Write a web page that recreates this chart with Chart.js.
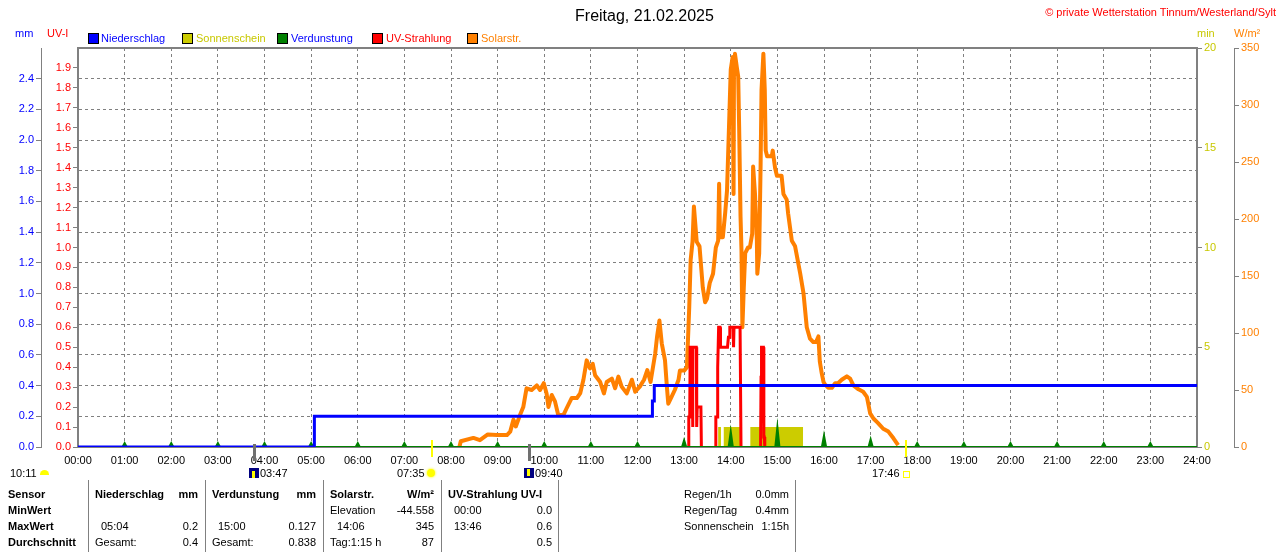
<!DOCTYPE html>
<html>
<head>
<meta charset="utf-8">
<script src="https://cdn.jsdelivr.net/npm/chart.js@4.4.1/dist/chart.umd.min.js"></script>
<style>
  body { margin: 0; background: #fff; font-family: "Liberation Sans", Arial, sans-serif; font-size: 11px; }
  #wrap { position: relative; width: 1280px; height: 552px; overflow: hidden; }
  #chart { position: absolute; left: 0; top: 0; }
  .t { position: absolute; white-space: nowrap; line-height: 14px; }
  .b { font-weight: bold; }
  .sq { position: absolute; top: 33px; width: 9px; height: 9px; border: 1px solid #000; }
  .vl { position: absolute; top: 480px; height: 72px; width: 1px; background: #808080; }
</style>
</head>
<body>
<div id="wrap">
  <canvas id="chart" width="1280" height="552"></canvas>

  <div class="t" style="left:0;width:1280px;top:7px;text-align:center;font-size:16px;line-height:18px;">&nbsp;&nbsp;Freitag, 21.02.2025</div>
  <div class="t" style="right:4px;top:5px;color:#ff0000;">© private Wetterstation Tinnum/Westerland/Sylt</div>

  <div class="t" style="left:15px;top:26px;color:#0000ff;">mm</div>
  <div class="t" style="left:47px;top:26px;color:#ff0000;">UV-I</div>
  <div class="t" style="left:1197px;top:26px;color:#c8c800;">min</div>
  <div class="t" style="left:1234px;top:26px;color:#ff8000;">W/m²</div>

  <div class="sq" style="left:88px;background:#0000ff;"></div>
  <div class="t" style="left:101px;top:31px;color:#0000ff;">Niederschlag</div>
  <div class="sq" style="left:182px;background:#cccc00;"></div>
  <div class="t" style="left:196px;top:31px;color:#c8c800;">Sonnenschein</div>
  <div class="sq" style="left:277px;background:#008000;"></div>
  <div class="t" style="left:291px;top:31px;color:#0000ff;">Verdunstung</div>
  <div class="sq" style="left:372px;background:#ff0000;"></div>
  <div class="t" style="left:386px;top:31px;color:#ff0000;">UV-Strahlung</div>
  <div class="sq" style="left:467px;background:#ff8000;"></div>
  <div class="t" style="left:481px;top:31px;color:#ff8000;">Solarstr.</div>

  <!-- sun / moon row -->
  <div class="t" style="left:10px;top:466px;">10:11</div>
  <div style="position:absolute;left:40px;top:470px;width:9px;height:5px;background:#ffff00;border-radius:5px 5px 0 0;"></div>
  <div style="position:absolute;left:249px;top:468px;width:10px;height:10px;background:#000080;"><div style="position:absolute;left:3px;top:3px;width:3px;height:7px;background:#ffff00;"></div></div>
  <div class="t" style="left:260px;top:466px;">03:47</div>
  <div class="t" style="left:397px;top:466px;">07:35</div>
  <div style="position:absolute;left:427px;top:469px;width:8px;height:8px;background:#ffff00;border-radius:50%;box-shadow:0 0 2px 1px #ffff80;"></div>
  <div style="position:absolute;left:524px;top:468px;width:10px;height:10px;background:#000080;"><div style="position:absolute;left:3px;top:1px;width:3px;height:7px;background:#ffff00;"></div></div>
  <div class="t" style="left:535px;top:466px;">09:40</div>
  <div class="t" style="left:872px;top:466px;">17:46</div>
  <div style="position:absolute;left:903px;top:471px;width:5px;height:5px;border:1px solid #ffff00;"></div>

  <!-- table -->
  <div class="vl" style="left:88px;"></div>
  <div class="vl" style="left:205px;"></div>
  <div class="vl" style="left:323px;"></div>
  <div class="vl" style="left:441px;"></div>
  <div class="vl" style="left:558px;"></div>
  <div class="vl" style="left:795px;"></div>

  <div class="t b" style="left:8px;top:487px;">Sensor</div>
  <div class="t b" style="left:8px;top:503px;">MinWert</div>
  <div class="t b" style="left:8px;top:519px;">MaxWert</div>
  <div class="t b" style="left:8px;top:535px;">Durchschnitt</div>

  <div class="t b" style="left:95px;top:487px;">Niederschlag</div>
  <div class="t b" style="right:1082px;top:487px;">mm</div>
  <div class="t" style="left:101px;top:519px;">05:04</div>
  <div class="t" style="right:1082px;top:519px;">0.2</div>
  <div class="t" style="left:95px;top:535px;">Gesamt:</div>
  <div class="t" style="right:1082px;top:535px;">0.4</div>

  <div class="t b" style="left:212px;top:487px;">Verdunstung</div>
  <div class="t b" style="right:964px;top:487px;">mm</div>
  <div class="t" style="left:218px;top:519px;">15:00</div>
  <div class="t" style="right:964px;top:519px;">0.127</div>
  <div class="t" style="left:212px;top:535px;">Gesamt:</div>
  <div class="t" style="right:964px;top:535px;">0.838</div>

  <div class="t b" style="left:330px;top:487px;">Solarstr.</div>
  <div class="t b" style="right:846px;top:487px;">W/m²</div>
  <div class="t" style="left:330px;top:503px;">Elevation</div>
  <div class="t" style="right:846px;top:503px;">-44.558</div>
  <div class="t" style="left:337px;top:519px;">14:06</div>
  <div class="t" style="right:846px;top:519px;">345</div>
  <div class="t" style="left:330px;top:535px;">Tag:1:15 h</div>
  <div class="t" style="right:846px;top:535px;">87</div>

  <div class="t b" style="left:448px;top:487px;">UV-Strahlung UV-I</div>
  <div class="t" style="left:454px;top:503px;">00:00</div>
  <div class="t" style="right:728px;top:503px;">0.0</div>
  <div class="t" style="left:454px;top:519px;">13:46</div>
  <div class="t" style="right:728px;top:519px;">0.6</div>
  <div class="t" style="right:728px;top:535px;">0.5</div>

  <div class="t" style="left:684px;top:487px;">Regen/1h</div>
  <div class="t" style="right:491px;top:487px;">0.0mm</div>
  <div class="t" style="left:684px;top:503px;">Regen/Tag</div>
  <div class="t" style="right:491px;top:503px;">0.4mm</div>
  <div class="t" style="left:684px;top:519px;">Sonnenschein</div>
  <div class="t" style="right:491px;top:519px;">1:15h</div>
</div>

<script>
// precipitation (mm, cumulative), step line
const rainTimes  = [0, 5.07, 12.32, 12.36, 24];
const rainValues = [0, 0.2, 0.3, 0.4, 0.4];

// evaporation per hour (mm)
const evapHours  = [1, 2, 3, 4, 5, 6, 7, 8, 9, 10, 11, 12, 13, 14, 15, 16, 17, 18, 19, 20, 21, 22, 23];
const evapValues = [0.025, 0.025, 0.025, 0.025, 0.025, 0.025, 0.025, 0.025, 0.025, 0.025, 0.025, 0.025,
                    0.045, 0.1, 0.13, 0.075, 0.05, 0.025, 0.025, 0.025, 0.025, 0.025, 0.025];

// sunshine (min), step blocks
const sunTimes  = [0, 13.73, 13.79, 13.85, 14.22, 14.42, 15.55, 24];
const sunValues = [0, 1, 0, 1, 0, 1, 0, 0];

// UV index, null separates the bursts
const uvTimes  = [13.09, 13.10, 13.12, 13.13, 13.17, 13.18, 13.19, 13.26, 13.27, 13.28, 13.36, 13.37,
                  13.5,
                  13.67, 13.68, 13.71, 13.72, 13.74, 13.77, 13.78, 13.93, 13.95, 13.97, 13.98, 14.05, 14.06, 14.07, 14.20, 14.22,
                  14.4,
                  14.64, 14.65, 14.66, 14.70, 14.71, 14.72, 14.73];
const uvValues = [0, 0.15, 0.15, 0.5, 0.5, 0.1, 0.5, 0.5, 0.1, 0.2, 0.2, 0,
                  null,
                  0, 0.15, 0.15, 0.4, 0.6, 0.6, 0.5, 0.5, 0.55, 0.55, 0.6, 0.6, 0.5, 0.6, 0.6, 0,
                  null,
                  0, 0.35, 0.5, 0.5, 0.05, 0.05, 0];

// solar radiation (W/m²)
const solarTimes = [8.18, 8.21, 8.48, 8.62, 8.79, 8.99, 9.20, 9.27, 9.34, 9.39,
  9.48, 9.55, 9.62, 9.73, 9.84, 9.91, 9.99, 10.05, 10.09, 10.16,
  10.23, 10.30, 10.41, 10.48, 10.59, 10.70, 10.77, 10.84, 10.91, 10.98,
  11.04, 11.09, 11.20, 11.28, 11.34, 11.45, 11.52, 11.59, 11.66, 11.77,
  11.88, 11.95, 12.05, 12.14, 12.21, 12.28, 12.38, 12.42, 12.47, 12.52,
  12.59, 12.63, 12.66, 12.73, 12.80, 12.88, 12.91, 13.00, 13.06, 13.11,
  13.14, 13.18, 13.21, 13.27, 13.33, 13.40, 13.45, 13.49, 13.55, 13.62,
  13.68, 13.73, 13.75, 13.77, 13.83, 13.88, 13.92, 13.94, 13.97, 14.00,
  14.04, 14.06, 14.07, 14.09, 14.13, 14.16, 14.18, 14.21, 14.23, 14.25,
  14.28, 14.31, 14.37, 14.41, 14.46, 14.48, 14.52, 14.56, 14.57, 14.61,
  14.64, 14.66, 14.70, 14.73, 14.75, 14.78, 14.88, 14.90, 14.95, 14.99,
  15.09, 15.13, 15.20, 15.23, 15.27, 15.31, 15.38, 15.49, 15.56, 15.63,
  15.70, 15.77, 15.83, 15.88, 15.91, 15.95, 15.99, 16.02, 16.09, 16.17,
  16.24, 16.30, 16.38, 16.49, 16.56, 16.63, 16.74, 16.84, 16.92, 16.99,
  17.06, 17.16, 17.27, 17.38, 17.49, 17.59];
const solarValues = [0, 5, 8, 6, 11, 10.5, 10.5, 13.5, 24, 18,
  28, 35, 51.5, 50, 54, 50, 56, 47, 35, 45.6,
  40, 28, 28, 34, 43, 43, 47, 59, 76, 69,
  73, 63, 57, 47, 57, 60, 51.5, 61.7, 53, 47,
  59, 48.5, 53, 59, 67.5, 57, 82, 97, 111, 91,
  76, 53, 38, 44, 50, 59, 67, 67, 70, 123,
  164, 180, 211, 180, 176, 140, 127, 130, 144, 152,
  175, 181, 231, 184, 184, 205, 225, 225, 291, 331,
  342, 222, 340, 345, 333, 325, 281, 202, 173, 105,
  140, 170, 175, 175, 187, 246, 222, 181, 152, 170,
  246, 313, 345, 313, 260, 255, 255, 260, 245, 238,
  238, 222, 217, 205, 193, 181, 176, 152, 135, 105,
  95, 92, 92, 97, 75, 65, 57, 55, 52, 52,
  56, 56, 59, 62, 60, 54, 50.6, 48.5, 44, 29.5,
  25, 21, 16, 13.5, 7.6, 1.7];

// sun / moon events (hours): moonrise, sunrise, moonset, sunset
const eventTimes = [3.783, 7.583, 9.667, 17.767];
const eventKinds = ['moon', 'sun', 'moon', 'sun'];

const pts = (xs, ys) => xs.map((x, i) => ({ x: x, y: ys[i] }));

// evaporation drawn as small spikes on a zero baseline
const evapPts = [{ x: 0, y: 0 }];
evapHours.forEach((h, i) => {
  evapPts.push({ x: h - 0.045, y: 0 }, { x: h, y: evapValues[i] }, { x: h + 0.045, y: 0 });
});
evapPts.push({ x: 24, y: 0 });

const GRID = '#808080';
const tickFont = { family: 'Liberation Sans', size: 11 };
const dropTop = (limit) => (scale) => { scale.ticks = scale.ticks.filter(t => t.value < limit); };

const framePlugin = {
  id: 'frame',
  afterDraw(chart) {
    const { ctx, chartArea: a, scales } = chart;
    ctx.save();
    ctx.strokeStyle = GRID;
    ctx.lineWidth = 2;
    ctx.beginPath();
    ctx.moveTo(a.left - 1, a.top);
    ctx.lineTo(a.right + 1, a.top);
    ctx.stroke();
    eventTimes.forEach((t, i) => {
      const x = Math.round(scales.x.getPixelForValue(t));
      if (eventKinds[i] === 'moon') {
        ctx.fillStyle = '#707070';
        ctx.fillRect(x - 1, a.bottom - 3, 3, 17);
      } else {
        ctx.fillStyle = '#ffff00';
        ctx.fillRect(x - 1, a.bottom - 7, 2, 17);
      }
    });
    ctx.restore();
  }
};

new Chart(document.getElementById('chart').getContext('2d'), {
  type: 'line',
  data: {
    datasets: [
      { label: 'Niederschlag', data: pts(rainTimes, rainValues), yAxisID: 'mm', stepped: true,
        borderColor: '#0000ff', borderWidth: 3, pointRadius: 0, order: 0 },
      { label: 'Verdunstung', data: evapPts, yAxisID: 'mm', borderColor: '#008000',
        backgroundColor: '#008000', fill: 'origin', borderWidth: 2, pointRadius: 0, order: 1 },
      { label: 'UV-Strahlung', data: pts(uvTimes, uvValues), yAxisID: 'uv', borderColor: '#ff0000',
        borderWidth: 3, pointRadius: 0, spanGaps: false, order: 2 },
      { label: 'Solarstr.', data: pts(solarTimes, solarValues), yAxisID: 'wm', borderColor: '#ff8000',
        borderWidth: 4, pointRadius: 0, borderJoinStyle: 'round', order: 3 },
      { label: 'Sonnenschein', data: pts(sunTimes, sunValues), yAxisID: 'min', stepped: true,
        borderWidth: 0, borderColor: 'rgba(0,0,0,0)', backgroundColor: '#cccc00', fill: 'origin',
        pointRadius: 0, order: 4 }
    ]
  },
  options: {
    responsive: false,
    devicePixelRatio: 1,
    animation: false,
    events: [],
    layout: { padding: { top: 48, left: 0, right: 0, bottom: 0 } },
    plugins: { legend: { display: false }, tooltip: { enabled: false } },
    scales: {
      x: {
        type: 'linear', min: 0, max: 24,
        ticks: { stepSize: 1, autoSkip: false, maxRotation: 0, padding: 7, color: '#000', font: tickFont,
          callback: v => String(v).padStart(2, '0') + ':00' },
        grid: { color: GRID, drawTicks: false },
        border: { color: GRID, width: 2, dash: [3, 3] },
        afterFit: s => { s.height = 105; }
      },
      mm: {
        position: 'left', weight: 1, min: 0, max: 2.6,
        ticks: { stepSize: 0.2, padding: 2, color: '#0000ff', font: tickFont, callback: v => v.toFixed(1) },
        afterBuildTicks: dropTop(2.5),
        grid: { color: GRID, tickLength: 5, tickBorderDash: [] },
        border: { color: GRID, width: 1, dash: [3, 3] },
        afterFit: s => { s.width = 41; }
      },
      uv: {
        position: 'left', weight: 0, min: 0, max: 2.0,
        ticks: { stepSize: 0.1, padding: 2, color: '#ff0000', font: tickFont, callback: v => v.toFixed(1) },
        afterBuildTicks: dropTop(1.95),
        grid: { color: GRID, tickLength: 5, drawOnChartArea: false },
        border: { color: GRID, width: 2 },
        afterFit: s => { s.width = 37; }
      },
      min: {
        position: 'right', weight: 0, min: 0, max: 20,
        ticks: { stepSize: 5, padding: 2, color: '#c8c800', font: tickFont },
        grid: { color: GRID, tickLength: 5, drawOnChartArea: false },
        border: { color: GRID, width: 2 },
        afterFit: s => { s.width = 37; }
      },
      wm: {
        position: 'right', weight: 1, min: 0, max: 350,
        ticks: { stepSize: 50, padding: 2, color: '#ff8000', font: tickFont },
        grid: { color: GRID, tickLength: 5, drawOnChartArea: false },
        border: { color: GRID, width: 1 },
        afterFit: s => { s.width = 46; }
      }
    }
  },
  plugins: [framePlugin]
});
</script>
</body>
</html>
